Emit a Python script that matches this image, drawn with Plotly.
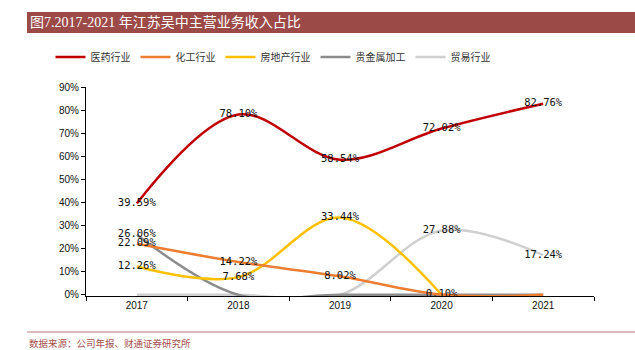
import plotly.graph_objects as go

years = ["2017", "2018", "2019", "2020", "2021"]
series_names = ["医药行业", "化工行业", "房地产行业", "贵金属加工", "贸易行业"]
pharma = [39.59, 78.10, 58.54, 72.02, 82.76]
chemical = [22.09, 14.22, 8.02, 0.10, 0.0]
realestate = [12.26, 7.68, 33.44, 0.0, None]
metal = [26.06, 0.0, 0.0, 0.0, 0.0]
trade = [0.0, 0.0, 0.0, 27.88, 17.24]
# which points carry a data label
pharma_lbl = [True, True, True, True, True]
chemical_lbl = [True, True, True, True, False]
realestate_lbl = [True, True, True, False, False]
metal_lbl = [True, False, False, False, False]
trade_lbl = [False, False, False, True, True]

colors = ["#C00000", "#ED7D31", "#FFC000", "#8C8C8C", "#CFCFCF"]
values = [pharma, chemical, realestate, metal, trade]
labels = [pharma_lbl, chemical_lbl, realestate_lbl, metal_lbl, trade_lbl]

W, H = 635, 350
L, R, T, B = 86, 594, 87, 296
PW, PH = R - L, B - T


def px_x(x):
    return (x - L) / PW


def px_y(y):
    return (B - y) / PH


fig = go.Figure()
# draw order: light first, red last; legend order via legendrank
order = [4, 3, 2, 1, 0]
for i in order:
    fig.add_trace(go.Scatter(
        x=years, y=values[i], name=series_names[i], mode="lines",
        line=dict(color=colors[i], width=2.5, shape="spline", smoothing=1.0),
        legendrank=i + 1, connectgaps=False,
    ))

# data labels on top
for i in order:
    txt = [f"{v:.2f}%" if (flag and v is not None) else "" for v, flag in zip(values[i], labels[i])]
    fig.add_trace(go.Scatter(
        x=years, y=values[i], mode="text", text=txt, textposition="middle center",
        textfont=dict(family="DejaVu Sans Mono, Liberation Mono", size=10.5, color="#111111"),
        showlegend=False, hoverinfo="skip", cliponaxis=False,
    ))

fig.update_layout(
    width=W, height=H,
    margin=dict(l=L, r=W - R, t=T, b=H - B, pad=0),
    paper_bgcolor="white", plot_bgcolor="white",
    showlegend=True,
    legend=dict(
        orientation="h", x=px_x(273), xanchor="center", y=px_y(57), yanchor="middle",
        font=dict(family="Noto Sans CJK SC", size=10, color="#333333"),
        itemwidth=30, tracegroupgap=0, bgcolor="rgba(0,0,0,0)",
    ),
    xaxis=dict(
        type="category", range=[-0.5, 4.5], showline=True, linecolor="#000000", linewidth=1,
        ticks="outside", tickson="boundaries", ticklen=4, tickcolor="#000000",
        showgrid=False, zeroline=False,
        tickfont=dict(family="Liberation Sans, Arial", size=10, color="#111111"),
    ),
    yaxis=dict(
        range=[-0.5, 90], tickvals=[0, 10, 20, 30, 40, 50, 60, 70, 80, 90],
        ticktext=[f"{v}%" for v in range(0, 100, 10)],
        showline=True, linecolor="#000000", linewidth=1,
        ticks="outside", ticklen=4, tickcolor="#000000",
        showgrid=False, zeroline=False,
        tickfont=dict(family="Liberation Sans, Arial", size=10, color="#111111"),
    ),
    shapes=[
        dict(type="rect", xref="paper", yref="paper",
             x0=px_x(27), x1=px_x(635), y0=px_y(33), y1=px_y(12),
             fillcolor="#9C4A48", line=dict(width=0), layer="below"),
        dict(type="line", xref="paper", yref="paper",
             x0=px_x(27), x1=px_x(635), y0=px_y(332), y1=px_y(332),
             line=dict(color="#B57A78", width=1)),
    ],
    annotations=[
        dict(text="图7.2017-2021 年江苏吴中主营业务收入占比", xref="paper", yref="paper",
             x=px_x(28), y=px_y(22.5), xanchor="left", yanchor="middle", showarrow=False,
             font=dict(family="Liberation Serif, Noto Sans CJK SC", size=14, color="white")),
        dict(text="数据来源：公司年报、财通证券研究所", xref="paper", yref="paper",
             x=px_x(27), y=px_y(342.5), xanchor="left", yanchor="middle", showarrow=False,
             font=dict(family="Noto Sans CJK SC", size=9.5, color="#A5504E")),
    ],
)

fig.write_html("out.html")
